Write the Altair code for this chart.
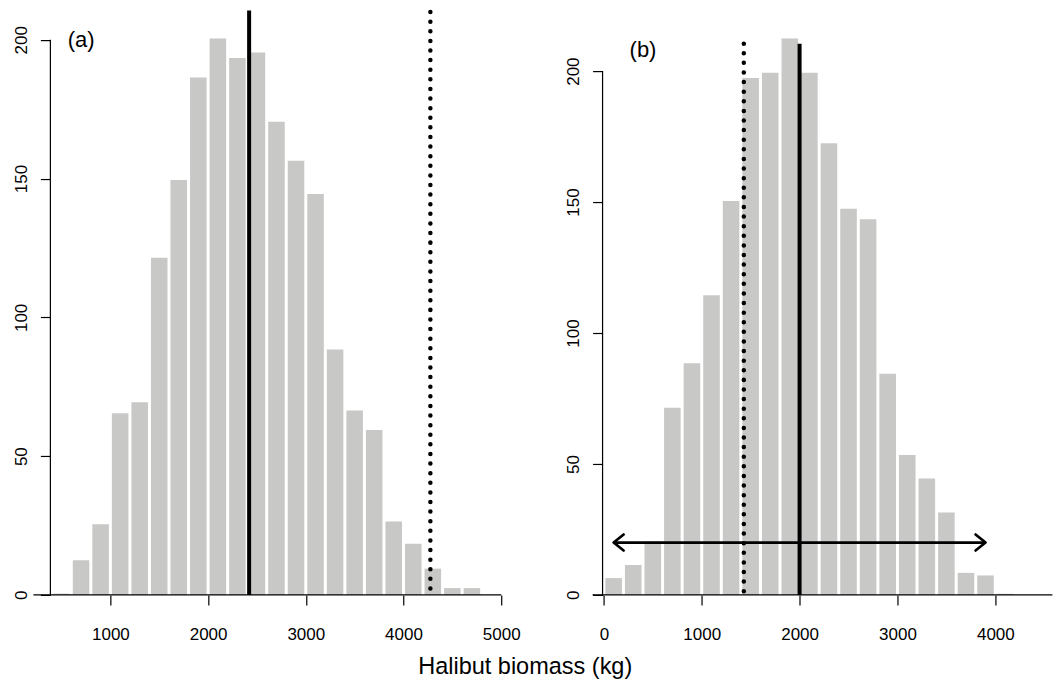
import altair as alt
import pandas as pd

# ---------------- data ----------------
# Panel (a): histogram bins (kg) and counts
bin_lo_a = [400, 600, 800, 1000, 1200, 1400, 1600, 1800, 2000, 2200, 2400,
            2600, 2800, 3000, 3200, 3400, 3600, 3800, 4000, 4200, 4400, 4600]
bin_hi_a = [600, 800, 1000, 1200, 1400, 1600, 1800, 2000, 2200, 2400, 2600,
            2800, 3000, 3200, 3400, 3600, 3800, 4000, 4200, 4400, 4600, 4800]
counts_a = [1, 13, 26, 66, 70, 122, 150, 187, 201, 194, 196,
            171, 157, 145, 89, 67, 60, 27, 19, 10, 3, 3]

# Panel (b): histogram bins (kg) and counts
bin_lo_b = [0, 200, 400, 600, 800, 1000, 1200, 1400, 1600, 1800, 2000,
            2200, 2400, 2600, 2800, 3000, 3200, 3400, 3600, 3800, 4000]
bin_hi_b = [200, 400, 600, 800, 1000, 1200, 1400, 1600, 1800, 2000, 2200,
            2400, 2600, 2800, 3000, 3200, 3400, 3600, 3800, 4000, 4200]
counts_b = [7, 12, 21, 72, 89, 115, 151, 198, 200, 213, 200,
            173, 148, 144, 85, 54, 45, 32, 9, 8, 1]

# reference lines (x position, top count)
solid_a = [2420]
solid_a_top = [210.6]
dotted_a = [4275]
dotted_a_top = [210]
solid_b = [2000]
solid_b_top = [210.5]
dotted_b = [1430]
dotted_b_top = [210.5]

# double-headed arrow in panel (b)
arrow_b_x = [100, 3900]
arrow_b_y = [20, 20]

# panel letters
letters = ["(a)", "(b)"]
letter_x = [700, 400]
letter_y = [200, 208]

# axis ticks
x_ticks_a = [1000, 2000, 3000, 4000, 5000]
x_ticks_b = [0, 1000, 2000, 3000, 4000]
y_ticks = [0, 50, 100, 150, 200]

# scale extents
x_dom_a = [386, 5000]
y_dom_a = [0, 210.7]
x_dom_b = [-13, 4583]
y_dom_b = [0, 223.3]

FONT = "Liberation Sans"
BAR = "#c8c9c6"
W_A, W_B, H = 451, 450, 585


def panel(lo, hi, counts, x_dom, y_dom, x_ticks, width,
          solid_x, solid_top, dot_x, dot_top, letter, lx, ly,
          base_left, arrow=None):
    xs = alt.Scale(domain=x_dom, nice=False, zero=False)
    ys = alt.Scale(domain=y_dom, nice=False, zero=False)
    xa = alt.Axis(
        values=x_ticks, format="d", domain=False, grid=False, title=None,
        tickSize=10, tickWidth=1.2, tickColor="black",
        labelFont=FONT, labelFontSize=17, labelColor="black",
        labelPadding=21.4, labelFlush=False, labelOverlap=False)
    ya = alt.Axis(
        values=y_ticks, format="d", domain=False, grid=False, title=None,
        tickSize=10, tickWidth=1.2, tickColor="black",
        labelFont=FONT, labelFontSize=17, labelColor="black",
        labelAngle=270, labelAlign="center", labelBaseline="alphabetic",
        labelPadding=14, labelFlush=False, labelOverlap=False)

    def X(f):
        return alt.X(f, scale=xs, axis=xa)

    def Y(f):
        return alt.Y(f, scale=ys, axis=ya)

    bars_df = pd.DataFrame({"lo": lo, "hi": hi, "n": counts,
                            "z": [0] * len(counts)})
    bars = alt.Chart(bars_df).mark_rect(
        fill=BAR, xOffset=1.5, x2Offset=-1.5, yOffset=1.5
    ).encode(x=X("lo:Q"), x2="hi:Q", y=Y("n:Q"), y2="z:Q")

    # y axis line spanning the tick range only
    yline_df = pd.DataFrame({"y0": [min(y_ticks)], "y1": [max(y_ticks)]})
    yline = alt.Chart(yline_df).mark_rule(color="black", strokeWidth=1.2).encode(
        x=alt.value(0), y=Y("y0:Q"), y2="y1:Q")
    # base line at zero count
    base = alt.Chart(yline_df).mark_rule(color="black", strokeWidth=1.3).encode(
        x=alt.value(base_left), x2=alt.value(width), y=Y("y0:Q"))

    sol_df = pd.DataFrame({"x": solid_x, "top": solid_top, "b": [0] * len(solid_x)})
    sol = alt.Chart(sol_df).mark_rule(color="black", strokeWidth=4).encode(
        x=X("x:Q"), y=Y("b:Q"), y2="top:Q")

    dot_df = pd.DataFrame({"x": dot_x, "top": dot_top, "b": [0] * len(dot_x)})
    dot = alt.Chart(dot_df).mark_rule(
        color="black", strokeWidth=4.5, strokeDash=[0.01, 9.6], strokeCap="round"
    ).encode(x=X("x:Q"), y=Y("top:Q"), y2="b:Q")

    txt_df = pd.DataFrame({"t": [letter], "x": [lx], "y": [ly]})
    txt = alt.Chart(txt_df).mark_text(
        font=FONT, fontSize=22, color="black", align="center", baseline="middle"
    ).encode(x=X("x:Q"), y=Y("y:Q"), text="t:N")

    layers = [bars, sol, dot, yline, base, txt]
    if arrow is not None:
        ax, ay = arrow
        arr_df = pd.DataFrame({"x0": [ax[0]], "x1": [ax[1]], "y": [ay[0]]})
        shaft = alt.Chart(arr_df).mark_rule(color="black", strokeWidth=2.7).encode(
            x=X("x0:Q"), x2="x1:Q", y=Y("y:Q"))
        left_df = pd.DataFrame({"x": [ax[0]], "y": [ay[0]]})
        right_df = pd.DataFrame({"x": [ax[1]], "y": [ay[1]]})
        head_l = alt.Chart(left_df).mark_point(
            shape="M 1.25 -1 L 0 0 L 1.25 1", size=256, filled=False,
            stroke="black", strokeWidth=2.7, opacity=1,
            strokeCap="round", strokeJoin="round"
        ).encode(x=X("x:Q"), y=Y("y:Q"))
        head_r = alt.Chart(right_df).mark_point(
            shape="M -1.25 -1 L 0 0 L -1.25 1", size=256, filled=False,
            stroke="black", strokeWidth=2.7, opacity=1,
            strokeCap="round", strokeJoin="round"
        ).encode(x=X("x:Q"), y=Y("y:Q"))
        layers += [shaft, head_l, head_r]
    return alt.layer(*layers).properties(width=width, height=H)


pa = panel(bin_lo_a, bin_hi_a, counts_a, x_dom_a, y_dom_a, x_ticks_a, W_A,
           solid_a, solid_a_top, dotted_a, dotted_a_top,
           letters[0], letter_x[0], letter_y[0], -17)
pb = panel(bin_lo_b, bin_hi_b, counts_b, x_dom_b, y_dom_b, x_ticks_b, W_B,
           solid_b, solid_b_top, dotted_b, dotted_b_top,
           letters[1], letter_x[1], letter_y[1], -10,
           arrow=(arrow_b_x, arrow_b_y))

chart = alt.hconcat(pa, pb, spacing=44.4).properties(
    title=alt.TitleParams(
        "Halibut biomass (kg)", orient="bottom", anchor="middle",
        font=FONT, fontSize=23.5, fontWeight="normal", color="black",
        offset=13, dx=-7.5, baseline="top"),
    padding={"left": 4.4, "top": 0, "right": 0, "bottom": 0},
).configure_view(stroke=None)

chart.save("out.html", embed_options={"renderer": "svg", "actions": False})
